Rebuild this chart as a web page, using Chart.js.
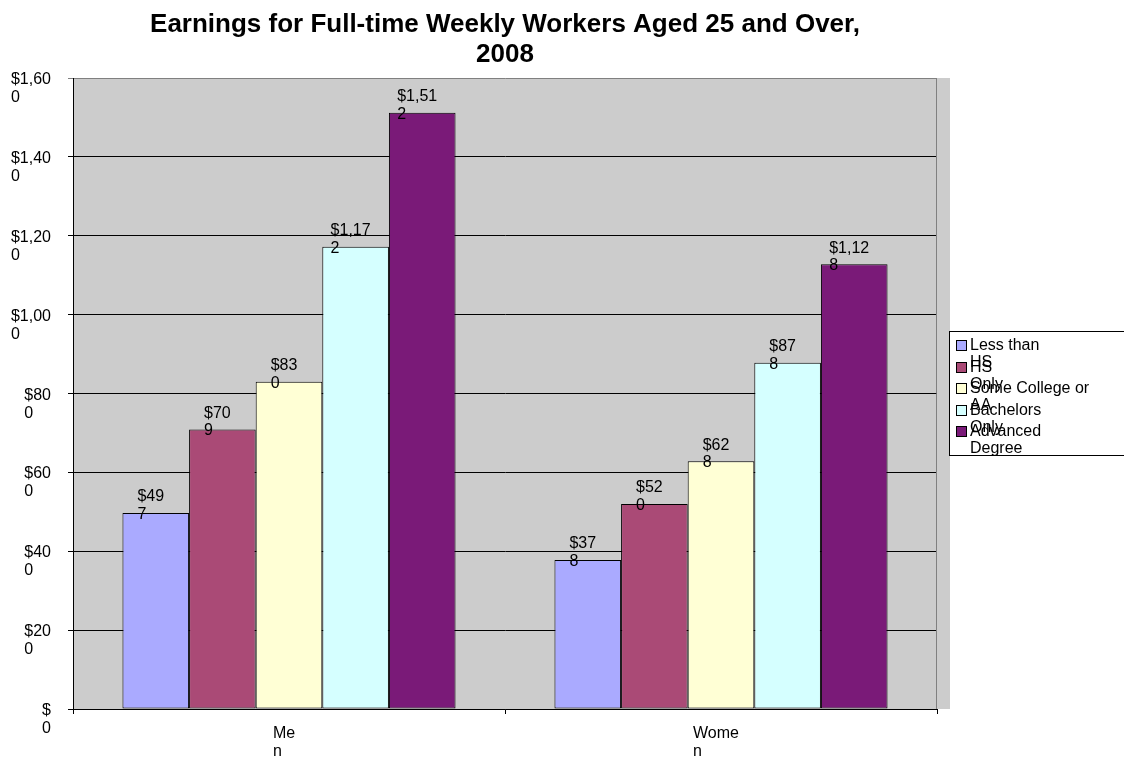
<!DOCTYPE html>
<html>
<head>
<meta charset="utf-8">
<script src="https://cdn.jsdelivr.net/npm/chart.js@4"></script>
<style>
html, body { margin: 0; padding: 0; background: #fff; }
#wrap { width: 1124px; height: 758px; }
</style>
</head>
<body>
<div id="wrap"><canvas id="earningsChart"></canvas></div>
<script>
// chart data
const categories = ['Men', 'Women'];
const seriesNames = ['Less than HS', 'HS Only', 'Some College or AA', 'Bachelors Only', 'Advanced Degree'];
const lessThanHS = [497, 378];
const hsOnly = [709, 520];
const someCollege = [830, 628];
const bachelors = [1172, 878];
const advancedDegree = [1512, 1128];
const yTickValues = [0, 200, 400, 600, 800, 1000, 1200, 1400, 1600];
const titleLines = ['Earnings for Full-time Weekly Workers Aged 25 and Over,', '2008'];

const seriesColors = ['#AAAAFF', '#AA4A76', '#FFFFD5', '#D5FFFF', '#7A1A78'];
const FONT = '16px "Liberation Sans", Arial, sans-serif';
const TITLE_FONT = 'bold 26px "Liberation Sans", Arial, sans-serif';

function money(v) {
    return '$' + v.toLocaleString('en-US');
}

// Excel squeezed the labels, so the last char drops to a second line
function chopLast(s) {
    return [s.slice(0, -1), s.slice(-1)];
}

function splitLastSpace(s) {
    const i = s.lastIndexOf(' ');
    return [s.slice(0, i), s.slice(i + 1)];
}

const excelLook = {
    id: 'excelLook',
    beforeDraw(chart) {
        const { ctx, chartArea: a } = chart;
        ctx.save();
        ctx.fillStyle = '#CCCCCC';
        ctx.fillRect(a.left, a.top, a.right - a.left + 13, a.bottom - a.top);
        ctx.restore();
    },
    beforeDatasetsDraw(chart) {
        const { ctx, chartArea: a } = chart;
        ctx.save();
        ctx.strokeStyle = '#808080';
        ctx.lineWidth = 1;
        ctx.beginPath();
        ctx.moveTo(a.right - 0.5, a.top);
        ctx.lineTo(a.right - 0.5, a.bottom);
        ctx.stroke();
        ctx.restore();
    },
    afterDraw(chart) {
        const { ctx, chartArea: a } = chart;
        const xScale = chart.scales.x;
        const yScale = chart.scales.y;
        ctx.save();
        ctx.fillStyle = '#000';
        ctx.textAlign = 'left';
        ctx.textBaseline = 'alphabetic';

        // title
        ctx.font = TITLE_FONT;
        ctx.textAlign = 'center';
        const cx = (a.left + a.right) / 2;
        ctx.fillText(titleLines[0], cx, 32);
        ctx.fillText(titleLines[1], cx, 62);
        ctx.textAlign = 'left';

        ctx.font = FONT;

        // y tick labels
        yScale.ticks.forEach(t => {
            const y = yScale.getPixelForValue(t.value);
            const lines = chopLast(money(t.value));
            const x = 51 - ctx.measureText(lines[0]).width;
            ctx.fillText(lines[0], x, y + 6);
            ctx.fillText(lines[1], x, y + 24);
        });

        // category labels
        categories.forEach((c, i) => {
            const center = xScale.getPixelForValue(i);
            const lines = chopLast(c);
            const x = center - 5 - ctx.measureText(lines[0]).width / 2;
            ctx.fillText(lines[0], x, a.bottom + 29);
            ctx.fillText(lines[1], x, a.bottom + 47);
        });

        // value labels
        chart.data.datasets.forEach((ds, di) => {
            chart.getDatasetMeta(di).data.forEach((bar, i) => {
                const lines = chopLast(money(ds.data[i]));
                const x = bar.x - 5 - ctx.measureText(lines[0]).width / 2;
                ctx.fillText(lines[0], x, bar.y - 11.5);
                ctx.fillText(lines[1], x, bar.y + 6);
            });
        });

        // legend
        ctx.strokeStyle = '#000';
        ctx.lineWidth = 1;
        ctx.strokeRect(949.5, 331.5, 200, 124);
        chart.data.datasets.forEach((ds, di) => {
            const cy = 345 + di * 21.6;
            ctx.fillStyle = ds.backgroundColor;
            ctx.fillRect(956, Math.round(cy) - 5, 11, 11);
            ctx.strokeRect(956.5, Math.round(cy) - 4.5, 10, 10);
            ctx.fillStyle = '#000';
            const lines = splitLastSpace(ds.label);
            ctx.fillText(lines[0], 970, cy + 5);
            ctx.fillText(lines[1], 970, cy + 22);
        });
        ctx.restore();
    }
};

const seriesValues = [lessThanHS, hsOnly, someCollege, bachelors, advancedDegree];

new Chart(document.getElementById('earningsChart'), {
    type: 'bar',
    data: {
        labels: categories,
        datasets: seriesNames.map((name, i) => ({
            label: name,
            data: seriesValues[i],
            backgroundColor: seriesColors[i],
            borderColor: '#000',
            borderWidth: 1,
            borderSkipped: false,
            categoryPercentage: 0.771,
            barPercentage: 1
        }))
    },
    options: {
        responsive: true,
        maintainAspectRatio: false,
        animation: false,
        layout: {
            padding: { top: 78, right: 187, bottom: 0, left: 0 }
        },
        plugins: {
            legend: { display: false },
            title: { display: false },
            tooltip: { enabled: false }
        },
        scales: {
            x: {
                offset: true,
                grid: {
                    offset: true,
                    drawOnChartArea: false,
                    drawTicks: true,
                    tickLength: 5,
                    color: '#000'
                },
                border: { color: '#000' },
                ticks: { display: false },
                afterFit(scale) { scale.height = 49; }
            },
            y: {
                min: 0,
                max: 1600,
                afterBuildTicks(scale) {
                    scale.ticks = yTickValues.map(v => ({ value: v }));
                },
                grid: {
                    color: ctx => (ctx.tick && ctx.tick.value === 1600 ? '#808080' : '#000'),
                    drawTicks: true,
                    tickLength: 5
                },
                border: { color: '#000' },
                ticks: { display: false },
                afterFit(scale) { scale.width = 73; }
            }
        }
    },
    plugins: [excelLook]
});
</script>
</body>
</html>
